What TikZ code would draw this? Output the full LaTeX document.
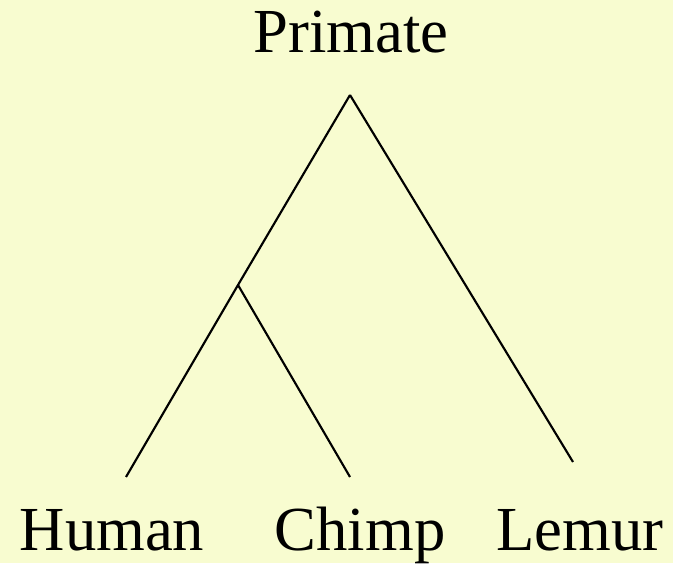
\documentclass[tikz,border=0pt]{standalone}
\usepackage{fontspec}
\setmainfont{Liberation Serif}
\usepackage{xcolor}
\definecolor{Paper}{HTML}{F8FCD0}
\definecolor{Ink}{HTML}{000000}
\tikzset{
  taxon/.style={anchor=base,inner sep=0pt,font=\fontsize{47}{56}\selectfont,text=Ink},
  branch/.style={Ink,line width=1.6pt}
}
\begin{document}
\begin{tikzpicture}[x=0.75pt,y=0.75pt]
\fill[Paper] (0,0) rectangle (673,563);
\useasboundingbox (0,0) rectangle (673,563);
\node[taxon] (primate) at (351,510) {Primate};
\node[taxon] (human) at (112,13) {Human};
\node[taxon] (chimp) at (360,13) {Chimp};
\node[taxon] (lemur) at (580,13) {Lemur};
\coordinate (root) at (350,468);
\coordinate (hc) at (238,278);
\coordinate (humanend) at (126,86);
\coordinate (chimpend) at (350,86);
\coordinate (lemurend) at (573,101);
\draw[branch] (root) -- (hc) -- (humanend);
\draw[branch] (hc) -- (chimpend);
\draw[branch] (root) -- (lemurend);
\end{tikzpicture}
\end{document}
